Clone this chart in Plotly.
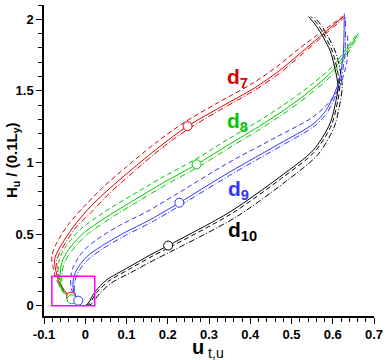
import plotly.graph_objects as go

# d7 (red)
red_u = [-0.034, -0.050, -0.063, -0.073, -0.074, -0.061, -0.029, 0.012, 0.052, 0.108, 0.180, 0.248, 0.330, 0.410, 0.470, 0.520, 0.626]
red_h = [0.063, 0.10, 0.16, 0.27, 0.33, 0.41, 0.55, 0.69, 0.80, 0.94, 1.11, 1.254, 1.39, 1.52, 1.64, 1.76, 2.02]
red_u_dash = [-0.036, -0.053, -0.068, -0.079, -0.081, -0.069, -0.038, 0.003, 0.044, 0.100, 0.172, 0.240, 0.323, 0.404, 0.465, 0.516, 0.624]
red_h_dash = [0.07, 0.11, 0.17, 0.28, 0.35, 0.44, 0.58, 0.71, 0.83, 0.97, 1.14, 1.28, 1.42, 1.55, 1.67, 1.79, 2.02]
red_u_dot = [-0.032, -0.047, -0.059, -0.068, -0.069, -0.056, -0.024, 0.017, 0.057, 0.113, 0.185, 0.253, 0.335, 0.414, 0.474, 0.523, 0.627]
red_h_dot = [0.06, 0.095, 0.15, 0.26, 0.32, 0.40, 0.54, 0.66, 0.78, 0.925, 1.10, 1.24, 1.38, 1.51, 1.63, 1.75, 2.01]

# d8 (green)
green_u = [-0.033, -0.048, -0.058, -0.061, -0.057, -0.041, -0.005, 0.052, 0.120, 0.190, 0.270, 0.351, 0.420, 0.484, 0.545, 0.601, 0.662]
green_h = [0.045, 0.08, 0.12, 0.20, 0.30, 0.39, 0.505, 0.62, 0.74, 0.86, 0.987, 1.13, 1.25, 1.37, 1.50, 1.645, 1.90]
green_u_dash = [-0.035, -0.051, -0.062, -0.066, -0.063, -0.048, -0.013, 0.044, 0.112, 0.183, 0.263, 0.345, 0.415, 0.480, 0.542, 0.599, 0.661]
green_h_dash = [0.05, 0.085, 0.13, 0.21, 0.32, 0.41, 0.53, 0.65, 0.77, 0.89, 1.015, 1.16, 1.28, 1.40, 1.53, 1.67, 1.91]
green_u_dot = [-0.031, -0.045, -0.054, -0.057, -0.052, -0.035, 0.002, 0.058, 0.126, 0.196, 0.276, 0.356, 0.425, 0.488, 0.548, 0.604, 0.663]
green_h_dot = [0.04, 0.075, 0.11, 0.19, 0.29, 0.375, 0.49, 0.605, 0.725, 0.845, 0.972, 1.115, 1.235, 1.355, 1.485, 1.63, 1.89]

# d9 (blue)
blue_u = [-0.017, -0.029, -0.029, -0.021, 0.003, 0.036, 0.092, 0.157, 0.228, 0.351, 0.472, 0.553, 0.585, 0.613, 0.625, 0.628]
blue_h = [0.035, 0.11, 0.18, 0.25, 0.34, 0.41, 0.505, 0.60, 0.719, 0.935, 1.133, 1.27, 1.37, 1.55, 1.74, 2.04]
blue_u_dash = [-0.020, -0.034, -0.035, -0.028, -0.005, 0.027, 0.083, 0.148, 0.219, 0.342, 0.465, 0.548, 0.585, 0.615, 0.634, 0.636]
blue_h_dash = [0.04, 0.12, 0.20, 0.28, 0.38, 0.46, 0.56, 0.655, 0.775, 0.99, 1.18, 1.31, 1.40, 1.52, 1.70, 1.90]
blue_u_dot = [-0.015, -0.026, -0.025, -0.016, 0.008, 0.041, 0.097, 0.162, 0.233, 0.356, 0.476, 0.556, 0.588, 0.616, 0.629, 0.631]
blue_h_dot = [0.03, 0.10, 0.17, 0.24, 0.325, 0.395, 0.49, 0.585, 0.705, 0.92, 1.118, 1.255, 1.355, 1.54, 1.74, 2.02]

# d10 (black)
black_u = [0.000, 0.007, 0.024, 0.052, 0.100, 0.157, 0.201, 0.351, 0.472, 0.553, 0.593, 0.608, 0.613, 0.605, 0.593, 0.561, 0.541]
black_h = [0.000, 0.017, 0.098, 0.18, 0.26, 0.354, 0.42, 0.655, 0.90, 1.087, 1.27, 1.435, 1.53, 1.66, 1.785, 1.95, 2.02]
black_u_dash = [0.002, 0.010, 0.028, 0.057, 0.105, 0.162, 0.206, 0.356, 0.476, 0.557, 0.597, 0.612, 0.617, 0.610, 0.598, 0.567, 0.547]
black_h_dash = [0.000, 0.015, 0.092, 0.172, 0.252, 0.345, 0.41, 0.645, 0.89, 1.078, 1.262, 1.43, 1.53, 1.66, 1.785, 1.95, 2.02]
black_u_dot = [0.006, 0.015, 0.034, 0.064, 0.113, 0.171, 0.216, 0.366, 0.485, 0.564, 0.603, 0.618, 0.623, 0.617, 0.605, 0.574, 0.554]
black_h_dot = [0.000, 0.012, 0.082, 0.16, 0.235, 0.325, 0.39, 0.62, 0.865, 1.055, 1.245, 1.42, 1.53, 1.66, 1.785, 1.95, 2.02]

# circle markers on the solid curves
marker_u = [0.248, 0.270, 0.228, 0.201, -0.0345, -0.033, -0.017]
marker_h = [1.254, 0.987, 0.719, 0.42, 0.063, 0.045, 0.035]
marker_names = ["d7", "d8", "d9", "d10", "d7", "d8", "d9"]

# labels
label_names = ["d7", "d8", "d9", "d10"]
label_text = ["d<sub>7</sub>", "d<sub>8</sub>", "d<sub>9</sub>", "d<sub>10</sub>"]
label_u = [0.338, 0.338, 0.340, 0.340]
label_h = [1.59, 1.28, 0.81, 0.52]

# zoom box
box_u = [-0.081, 0.023]
box_h = [0.0, 0.205]

colors = {"d7": "#dd0000", "d8": "#00c800", "d9": "#3333ff", "d10": "#000000"}
curves = {
    "d7": [(red_u, red_h), (red_u_dash, red_h_dash), (red_u_dot, red_h_dot)],
    "d8": [(green_u, green_h), (green_u_dash, green_h_dash), (green_u_dot, green_h_dot)],
    "d9": [(blue_u, blue_h), (blue_u_dash, blue_h_dash), (blue_u_dot, blue_h_dot)],
    "d10": [(black_u, black_h), (black_u_dash, black_h_dash), (black_u_dot, black_h_dot)],
}
dashes = ["solid", "5px,3px", "6px,2px,1px,2px"]

fig = go.Figure()

for name, lines in curves.items():
    for (u, h), dash in zip(lines, dashes):
        fig.add_trace(go.Scatter(x=u, y=h, mode="lines",
                                 line=dict(color=colors[name], width=1, dash=dash, shape="spline", smoothing=0.8),
                                 showlegend=False, hoverinfo="skip"))

fig.add_shape(type="rect", x0=box_u[0], x1=box_u[1], y0=box_h[0], y1=box_h[1],
              line=dict(color="#ff00ff", width=1.5))

fig.add_trace(go.Scatter(x=marker_u, y=marker_h, mode="markers",
                         marker=dict(size=9, color="white", symbol="circle",
                                     line=dict(color=[colors[n] for n in marker_names], width=1)),
                         showlegend=False, hoverinfo="skip"))

for name, txt, u, h in zip(label_names, label_text, label_u, label_h):
    fig.add_annotation(x=u, y=h, text="<b>" + txt + "</b>", showarrow=False,
                       xanchor="left", yanchor="middle",
                       font=dict(size=21, color=colors[name], family="Liberation Sans"))

# axis titles
fig.add_annotation(xref="paper", yref="y", x=-0.097, y=1.017, textangle=-90,
                   text="<b>H<sub>u</sub> / (0.1L<sub>y</sub>)</b>", showarrow=False,
                   xanchor="center", yanchor="middle",
                   font=dict(size=15, color="black", family="Liberation Sans"))
fig.add_annotation(xref="x", yref="paper", x=0.255, y=-0.104,
                   text="<b>u</b><sub> t,u</sub>", showarrow=False,
                   xanchor="left", yanchor="middle",
                   font=dict(size=20, color="black", family="Liberation Sans"))

fig.update_xaxes(range=[-0.1, 0.7], tickvals=[-0.1, 0, 0.1, 0.2, 0.3, 0.4, 0.5, 0.6, 0.7],
                 ticktext=["-0.1", "0", "0.1", "0.2", "0.3", "0.4", "0.5", "0.6", "0.7"],
                 automargin=False,
                 showline=True, linecolor="black", linewidth=1.5, mirror=False,
                 ticks="outside", ticklen=6, tickwidth=1, tickcolor="black",
                 minor=dict(dtick=0.02, ticks="outside", ticklen=4, tickcolor="black", showgrid=False),
                 showgrid=False, zeroline=False,
                 tickfont=dict(size=13, color="black", family="Liberation Sans", weight="bold"))
fig.update_yaxes(range=[-0.072, 2.1], tickvals=[0, 0.5, 1, 1.5, 2],
                 ticktext=["0", "0.5", "1", "1.5", "2"],
                 automargin=False,
                 showline=True, linecolor="black", linewidth=1.5, mirror=False,
                 ticks="outside", ticklen=6, tickwidth=1, tickcolor="black",
                 minor=dict(dtick=0.1, tick0=0, ticks="outside", ticklen=4, tickcolor="black", showgrid=False),
                 showgrid=False, zeroline=False,
                 tickfont=dict(size=13, color="black", family="Liberation Sans", weight="bold"))

fig.update_layout(width=390, height=360, margin=dict(l=44, r=16, t=5, b=44),
                  paper_bgcolor="white", plot_bgcolor="white", showlegend=False)

# the page body has a default 8px margin; drop it so the figure sits at the corner
fig.write_html("out.html", config={"displayModeBar": False},
               post_script="document.body.style.margin='0px';")
